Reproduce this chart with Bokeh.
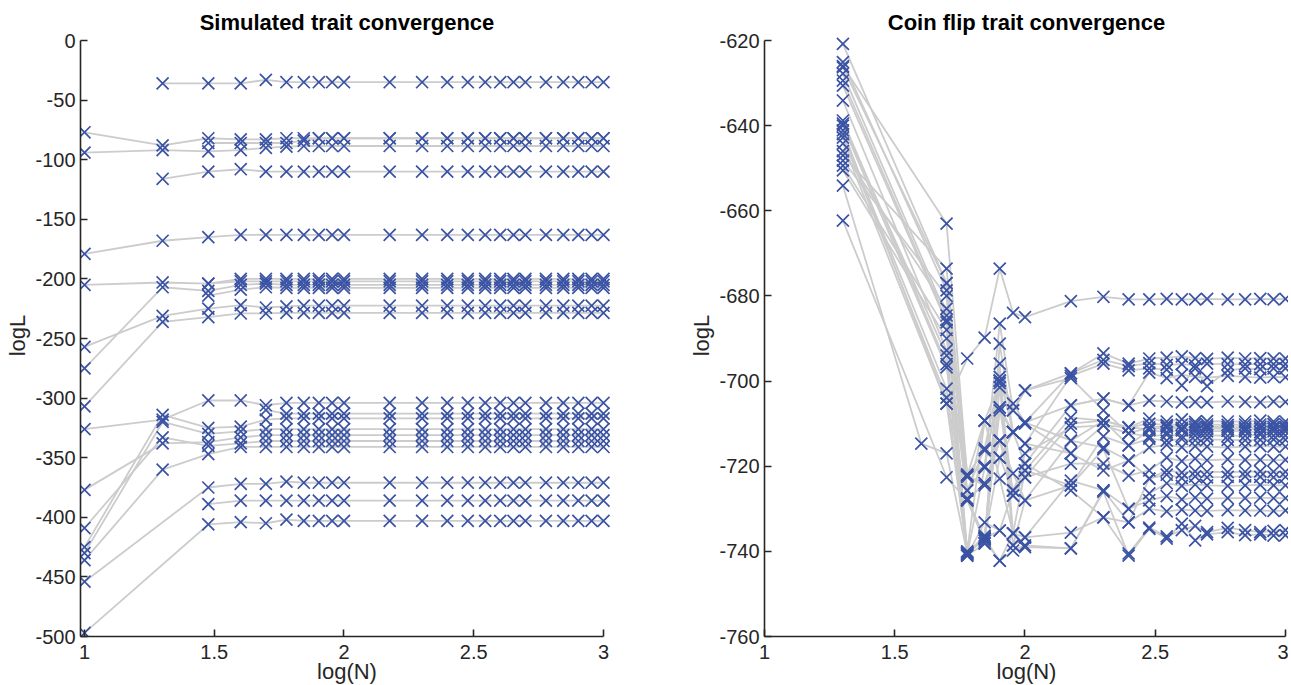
import math
from bokeh.plotting import figure
from bokeh.layouts import row
from bokeh.models import Range1d, FixedTicker
from bokeh.embed import file_html
from bokeh.resources import INLINE

# ---------------- data ----------------
# sample sizes N; the x axis shows log10(N)
N_VALUES = [10, 20, 30, 40, 50, 60, 70, 80, 90, 100, 150, 200, 250, 300,
            350, 400, 450, 500, 600, 700, 800, 900, 1000]

LEFT_TITLE = "Simulated trait convergence"
RIGHT_TITLE = "Coin flip trait convergence"
X_LABEL = "log(N)"
Y_LABEL = "logL"

X_TICKS = [1, 1.5, 2, 2.5, 3]
X_TICK_LABELS = ["1", "1.5", "2", "2.5", "3"]
LEFT_Y_TICKS = [0, -50, -100, -150, -200, -250, -300, -350, -400, -450, -500]
LEFT_Y_TICK_LABELS = ["0", "-50", "-100", "-150", "-200", "-250", "-300",
                      "-350", "-400", "-450", "-500"]
RIGHT_Y_TICKS = [-620, -640, -660, -680, -700, -720, -740, -760]
RIGHT_Y_TICK_LABELS = ["-620", "-640", "-660", "-680", "-700", "-720",
                       "-740", "-760"]

# simulated trait: logL per sample size (None = not present)
sim_01 = [None, -36, -36, -36, -33, -35, -35, -35, -35, -35, -35, -35, -35, -35, -35, -35, -35, -35, -35, -35, -35, -35, -35]
sim_02 = [-77, -88, -82, -83, -83, -82, -82, -82, -82, -82, -82, -82, -82, -82, -82, -82, -82, -82, -82, -82, -82, -82, -82]
sim_03 = [-94, -92, -93, -92, -90, -89, -88.5, -88.5, -88.5, -88.5, -88.5, -88.5, -88.5, -88.5, -88.5, -88.5, -88.5, -88.5, -88.5, -88.5, -88.5, -88.5, -88.5]
sim_04 = [None, None, -86, -86, -86, -86, -84, -82, -82, -82, -82, -82, -82, -82, -82, -82, -82, -82, -82, -82, -82, -82, -82]
sim_05 = [None, -116, -110, -108, -110, -110, -110, -110, -110, -110, -110, -110, -110, -110, -110, -110, -110, -110, -110, -110, -110, -110, -110]
sim_06 = [-179, -168, -165, -163, -163, -163, -163, -163, -163, -163, -163, -163, -163, -163, -163, -163, -163, -163, -163, -163, -163, -163, -163]
sim_07 = [-205, -203, -204, -202, -202, -202, -202, -202, -202, -202, -202, -202, -202, -202, -202, -202, -202, -202, -202, -202, -202, -202, -202]
sim_08 = [-257, -231, -225, -222, -224, -223, -222.5, -222.5, -222.5, -222.5, -222.5, -222.5, -222.5, -222.5, -222.5, -222.5, -222.5, -222.5, -222.5, -222.5, -222.5, -222.5, -222.5]
sim_09 = [-275, -207, -210, -205, -204, -205, -205, -205, -205, -205, -205, -205, -205, -205, -205, -205, -205, -205, -205, -205, -205, -205, -205]
sim_10 = [-307, -236, -232, -229, -229, -228.5, -228.5, -228.5, -228.5, -228.5, -228.5, -228.5, -228.5, -228.5, -228.5, -228.5, -228.5, -228.5, -228.5, -228.5, -228.5, -228.5, -228.5]
sim_11 = [None, None, -204, -200, -200, -200, -200, -200, -200, -200, -200, -200, -200, -200, -200, -200, -200, -200, -200, -200, -200, -200, -200]
sim_12 = [None, None, -214, -209, -207, -207.5, -207.5, -207.5, -207.5, -207.5, -207.5, -207.5, -207.5, -207.5, -207.5, -207.5, -207.5, -207.5, -207.5, -207.5, -207.5, -207.5, -207.5]
sim_13 = [-326, -318, -302, -302, -306, -304, -304, -304, -304, -304, -304, -304, -304, -304, -304, -304, -304, -304, -304, -304, -304, -304, -304]
sim_14 = [-425, -314, -325, -324, -318, -317, -317, -317, -317, -317, -317, -317, -317, -317, -317, -317, -317, -317, -317, -317, -317, -317, -317]
sim_15 = [-430, -320, -330, -328, -326, -326, -326, -326, -326, -326, -326, -326, -326, -326, -326, -326, -326, -326, -326, -326, -326, -326, -326]
sim_16 = [-377, -338, -337, -333, -331, -331, -331, -331, -331, -331, -331, -331, -331, -331, -331, -331, -331, -331, -331, -331, -331, -331, -331]
sim_17 = [-409, -333, -340, -338, -336, -336, -336, -336, -336, -336, -336, -336, -336, -336, -336, -336, -336, -336, -336, -336, -336, -336, -336]
sim_18 = [-436, -360, -347, -341, -341, -341, -341, -341, -341, -341, -341, -341, -341, -341, -341, -341, -341, -341, -341, -341, -341, -341, -341]
sim_19 = [None, None, None, None, -310, -313, -313, -313, -313, -313, -313, -313, -313, -313, -313, -313, -313, -313, -313, -313, -313, -313, -313]
sim_20 = [-454, None, -375, -372, -372, -370, -371, -371, -371, -371, -371, -371, -371, -371, -371, -371, -371, -371, -371, -371, -371, -371, -371]
sim_21 = [None, None, -389, -386, -386, -386, -386, -386, -386, -386, -386, -386, -386, -386, -386, -386, -386, -386, -386, -386, -386, -386, -386]
sim_22 = [-497, None, -406, -404, -405, -402, -403, -403, -403, -403, -403, -403, -403, -403, -403, -403, -403, -403, -403, -403, -403, -403, -403]

# coin flip trait: logL per sample size (None = not present)
coin_01 = [None, -641.1, None, None, -705.3, -694.7, -689.8, -673.6, -684.0, -685.0, -681.2, -680.2, -680.8, -680.8, -680.7, -680.8, -680.8, -680.7, -680.8, -680.8, -680.7, -680.8, -680.7]
coin_02 = [None, -626.0, None, None, -663.0, -722.2, -709.3, -706.2, -712.0, -709.7, -705.7, -704.1, -705.7, -704.6, -704.8, -705.0, -704.9, -705.0, -704.8, -704.9, -705.0, -704.8, -704.9]
coin_03 = [None, -654.1, None, -714.7, -717.0, -740.5, -737.0, -735.1, -738.6, -736.7, -735.6, -732.0, -740.5, -734.4, -736.5, -735.0, -734.0, -735.5, -734.5, -735.0, -735.5, -735.2, -735.0]
coin_04 = [None, -662.3, None, None, -722.6, -728.0, -737.5, -742.2, -739.8, -738.6, -739.3, -726.0, -741.0, -734.7, -737.0, -733.5, -737.4, -736.0, -735.5, -736.2, -736.0, -736.3, -736.2]
coin_05 = [None, -620.8, None, None, -677.0, -725.7, -720.3, -699.9, -706.9, -702.2, -698.2, -693.5, -695.9, -694.7, -694.5, -694.2, -694.6, -694.8, -694.5, -694.7, -694.6, -694.7, -694.7]
coin_06 = [None, -625.1, None, None, -678.7, -728.0, -724.0, -714.0, -712.0, -714.7, -698.8, -695.9, -697.5, -697.0, -697.3, -701.0, -697.0, -701.2, -697.5, -697.0, -697.2, -697.0, -697.0]
coin_07 = [None, -627.8, None, None, -684.6, -722.0, -716.3, -718.0, -725.7, -719.4, -705.7, -704.1, -705.7, -698.0, -699.3, -698.5, -699.0, -699.2, -698.8, -699.0, -699.2, -699.0, -699.1]
coin_08 = [None, -629.4, None, None, -685.7, -740.0, -709.3, -722.9, -735.8, -721.0, -708.6, -709.3, -710.9, -708.8, -709.5, -709.0, -709.6, -709.4, -709.5, -709.5, -709.3, -709.5, -709.5]
coin_09 = [None, -630.6, None, None, -686.2, -741.0, -738.2, -701.5, -726.9, -717.0, -710.9, -710.4, -712.3, -710.9, -710.6, -711.0, -710.8, -710.7, -710.8, -710.9, -710.8, -710.8, -710.8]
coin_10 = [None, -634.1, None, None, -692.8, -740.5, -736.3, -706.9, -712.0, -709.7, -714.0, -709.3, -715.1, -711.5, -712.0, -711.6, -712.0, -711.8, -711.7, -711.8, -712.0, -711.8, -711.8]
coin_11 = [None, -638.8, None, None, -696.0, -740.8, -720.3, -686.5, -706.9, -702.2, -699.3, -706.9, -712.3, -713.0, -712.6, -712.9, -712.8, -712.7, -712.9, -712.8, -712.6, -712.8, -712.8]
coin_12 = [None, -640.0, None, None, -696.8, -722.5, -724.5, -714.0, -721.7, -728.0, -714.0, -715.6, -718.7, -715.6, -715.0, -715.5, -715.3, -715.4, -715.6, -715.4, -715.3, -715.4, -715.4]
coin_13 = [None, -642.0, None, None, -701.8, -741.0, -733.2, -735.1, -725.7, -722.6, -719.4, -719.4, -722.2, -721.0, -718.0, -718.8, -718.2, -718.6, -718.4, -718.5, -718.5, -718.6, -718.5]
coin_14 = [None, -642.8, None, None, -703.9, -727.6, -738.0, -691.2, -712.0, -710.0, -717.0, -721.0, -718.7, -722.9, -721.0, -721.5, -721.2, -721.3, -721.4, -721.3, -721.2, -721.3, -721.3]
coin_15 = [None, -644.2, None, None, -705.3, -740.2, -737.0, -695.9, -735.8, -736.7, -723.4, -725.7, -730.0, -726.4, -724.0, -724.6, -724.3, -724.5, -724.6, -724.5, -724.4, -724.5, -724.5]
coin_16 = [None, -647.0, None, None, -673.6, -722.0, -720.0, -699.9, -738.6, -728.0, -724.5, -716.0, -730.0, -728.0, -727.0, -727.8, -727.4, -727.6, -727.5, -727.5, -727.4, -727.5, -727.5]
coin_17 = [None, -648.2, None, None, -680.0, -740.3, -736.7, -718.0, -712.0, -719.4, -725.7, -732.0, -733.2, -730.0, -730.6, -730.2, -730.4, -730.5, -730.3, -730.4, -730.4, -730.5, -730.4]
coin_18 = [None, -649.4, None, None, -688.0, -728.0, -709.3, -700.5, -705.3, -709.7, -698.2, -695.0, -696.5, -695.8, -696.2, -696.0, -696.3, -695.9, -696.0, -696.1, -696.0, -696.0, -696.0]
coin_19 = [None, -650.5, None, None, -690.0, -725.7, -715.8, -699.0, -712.0, -714.7, -717.0, -710.4, -710.9, -711.3, -711.0, -711.2, -711.4, -711.1, -711.2, -711.3, -711.2, -711.2, -711.2]
coin_20 = [None, -639.5, None, None, -694.0, -740.6, -737.0, -742.2, -735.8, -739.0, -739.3, -725.7, -733.2, -722.9, -722.0, -722.8, -722.4, -722.6, -722.5, -722.4, -722.5, -722.6, -722.5]
coin_21 = [None, -646.0, None, None, -683.0, -722.4, -724.0, -714.0, -725.7, -721.0, -724.5, -713.0, -715.1, -713.5, -714.0, -713.6, -713.9, -713.7, -713.8, -713.9, -713.8, -713.7, -713.8]
coin_22 = [None, -626.3, None, None, -677.0, -727.6, -736.8, -706.2, -726.9, -722.6, -710.0, -709.3, -710.9, -710.0, -710.3, -710.2, -710.1, -710.2, -710.3, -710.2, -710.2, -710.1, -710.2]

SIM_SERIES = [sim_01, sim_02, sim_03, sim_04, sim_05, sim_06, sim_07, sim_08,
              sim_09, sim_10, sim_11, sim_12, sim_13, sim_14, sim_15, sim_16,
              sim_17, sim_18, sim_19, sim_20, sim_21, sim_22]
COIN_SERIES = [coin_01, coin_02, coin_03, coin_04, coin_05, coin_06, coin_07,
               coin_08, coin_09, coin_10, coin_11, coin_12, coin_13, coin_14,
               coin_15, coin_16, coin_17, coin_18, coin_19, coin_20, coin_21,
               coin_22]

# ---------------- style ----------------
FONT = "Liberation Sans"
TXT = "#262626"
LINE_COLOR = "#cccccc"
MARKER_COLOR = "#3a53a4"
FIG_H = 687
TOP_B = 34
BOT_B = 51


def series_xy(values):
    xs, ys = [], []
    for n, v in zip(N_VALUES, values):
        if v is not None:
            xs.append(math.log10(n))
            ys.append(v)
    return xs, ys


def make_panel(title, series, x_range, y_range, y_ticks, y_labels,
               width, b_left, b_right, y_standoff):
    p = figure(width=width, height=FIG_H, x_range=x_range, y_range=y_range,
               output_backend="svg", toolbar_location=None,
               min_border_left=b_left, min_border_right=b_right,
               min_border_top=TOP_B, min_border_bottom=BOT_B,
               title=title)
    p.title.align = "center"
    p.title.text_font = FONT
    p.title.text_font_size = "22px"
    p.title.text_font_style = "bold"
    p.title.text_color = "#000000"
    p.title.standoff = 0
    p.grid.visible = False
    p.outline_line_color = None
    p.background_fill_color = None
    p.border_fill_color = "white"

    for ax in (p.xaxis[0], p.yaxis[0]):
        ax.axis_line_color = TXT
        ax.axis_line_width = 1.6
        ax.major_tick_line_color = TXT
        ax.major_tick_line_width = 1.6
        ax.major_tick_in = 7
        ax.major_tick_out = 0
        ax.minor_tick_in = 0
        ax.minor_tick_out = 0
        ax.major_label_text_font = FONT
        ax.major_label_text_font_size = "20px"
        ax.major_label_text_color = TXT
        ax.axis_label_text_font = FONT
        ax.axis_label_text_font_size = "22px"
        ax.axis_label_text_font_style = "normal"
        ax.axis_label_text_color = TXT

    xa = p.xaxis[0]
    xa.ticker = FixedTicker(ticks=X_TICKS)
    xa.major_label_overrides = dict(zip(X_TICKS, X_TICK_LABELS))
    xa.axis_label = X_LABEL
    xa.major_label_standoff = 8
    xa.axis_label_standoff = -3
    xa.bounds = (x_range.start, 3)

    ya = p.yaxis[0]
    ya.ticker = FixedTicker(ticks=y_ticks)
    ya.major_label_overrides = dict(zip(y_ticks, y_labels))
    ya.axis_label = Y_LABEL
    ya.major_label_standoff = y_standoff
    ya.axis_label_standoff = 2
    ya.bounds = (y_range.start, y_ticks[0])

    pts = [series_xy(s) for s in series]
    for xs, ys in pts:
        p.line(xs, ys, line_color=LINE_COLOR, line_width=1.8)
    for xs, ys in pts:
        p.scatter(xs, ys, marker="x", size=17, line_color=MARKER_COLOR,
                  line_width=1.7)
    return p


FRAME_H = FIG_H - TOP_B - BOT_B          # expected frame height
DATA_H = FRAME_H - 6                      # 6 px free above the top tick

# left panel: x=1 sits 4 px inside the frame, x=3 10 px from its right edge
L_PX = 259.0
left_x = Range1d(1 - 4 / L_PX, 3 + 10 / L_PX)
left_y = Range1d(-500, 0 + 6 * 500.0 / DATA_H)
p1 = make_panel(LEFT_TITLE, SIM_SERIES, left_x, left_y, LEFT_Y_TICKS,
                LEFT_Y_TICK_LABELS, width=686, b_left=80, b_right=73,
                y_standoff=5)

R_PX = 259.0
right_x = Range1d(1, 3 + 3 / R_PX)
right_y = Range1d(-760, -620 + 6 * 140.0 / DATA_H)
p2 = make_panel(RIGHT_TITLE, COIN_SERIES, right_x, right_y, RIGHT_Y_TICKS,
                RIGHT_Y_TICK_LABELS, width=602, b_left=76, b_right=0,
                y_standoff=5)

layout = row(p1, p2)
open("out.html", "w").write(file_html(layout, INLINE))
